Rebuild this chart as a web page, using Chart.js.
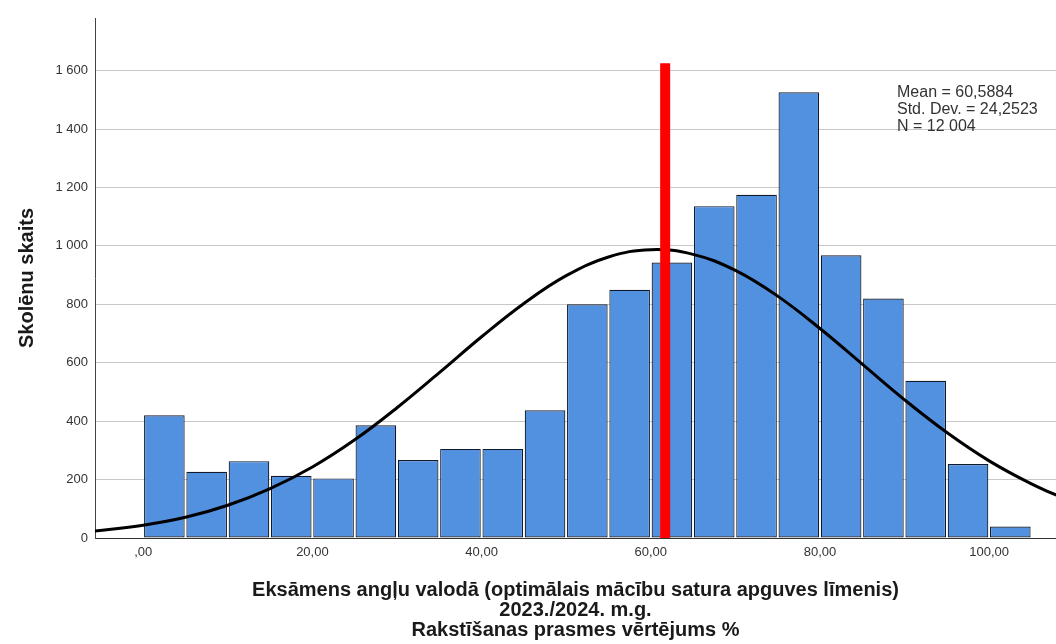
<!DOCTYPE html>
<html>
<head>
<meta charset="utf-8">
<script src="https://cdn.jsdelivr.net/npm/chart.js@4/dist/chart.umd.min.js"></script>
<style>
html,body{margin:0;padding:0;background:#fff;}
#wrap{width:1056px;height:644px;position:relative;}
</style>
</head>
<body>
<div id="wrap"><canvas id="c" width="1056" height="644"></canvas></div>
<script>
// ---- data ----
const binCenters = [2.5, 7.5, 12.5, 17.5, 22.5, 27.5, 32.5, 37.5, 42.5, 47.5, 52.5, 57.5, 62.5, 67.5, 72.5, 77.5, 82.5, 87.5, 92.5, 97.5, 102.5];
const binCounts  = [420, 227, 263, 213, 204, 386, 267, 305, 305, 437, 800, 850, 943, 1136, 1175, 1526, 968, 820, 538, 253, 39];

const curveX = [-6, 0, 5, 10, 15, 20, 25, 30, 35, 40, 45, 50, 55, 60, 65, 70, 75, 80, 85, 90, 95, 100, 105, 108];
const curveY = [23, 44, 71, 112, 169, 243, 336, 446, 566, 689, 803, 898, 962, 987, 971, 916, 828, 717, 595, 473, 361, 264, 185, 146];

const markerX = [61.7, 61.7];
const markerY = [0, 1625];

const yTickValues = [0, 200, 400, 600, 800, 1000, 1200, 1400, 1600];
const yTickLabels = ['0', '200', '400', '600', '800', '1 000', '1 200', '1 400', '1 600'];
const xTickValues = [0, 20, 40, 60, 80, 100];
const xTickLabels = [',00', '20,00', '40,00', '60,00', '80,00', '100,00'];

const statsLines = ['Mean = 60,5884', 'Std. Dev. = 24,2523', 'N = 12 004'];
const yTitle = 'Skolēnu skaits';
const xTitle = ['Eksāmens angļu valodā (optimālais mācību satura apguves līmenis)', '2023./2024. m.g.', 'Rakstīšanas prasmes vērtējums %'];

// ---- chart ----
const FONT = '"Liberation Sans", Arial, sans-serif';

const statsPlugin = {
  id: 'stats',
  afterDatasetsDraw(chart) {
    const ctx = chart.ctx;
    ctx.save();
    ctx.font = '16px ' + FONT;
    ctx.fillStyle = '#333';
    ctx.textAlign = 'left';
    ctx.textBaseline = 'alphabetic';
    statsLines.forEach((t, i) => ctx.fillText(t, 897, 97 + i * 17));
    ctx.restore();
  }
};

new Chart(document.getElementById('c'), {
  type: 'bar',
  data: {
    datasets: [
      {
        type: 'line',
        order: 0,
        data: markerX.map((x, i) => ({x: x, y: markerY[i]})),
        borderColor: '#ff0000',
        borderWidth: 10,
        borderCapStyle: 'butt',
        pointRadius: 0,
        tension: 0
      },
      {
        type: 'line',
        order: 1,
        data: curveX.map((x, i) => ({x: x, y: curveY[i]})),
        borderColor: '#000',
        borderWidth: 3,
        pointRadius: 0,
        tension: 0.4,
        fill: false
      },
      {
        type: 'bar',
        order: 2,
        data: binCenters.map((x, i) => ({x: x, y: binCounts[i]})),
        backgroundColor: '#5290e0',
        borderColor: '#111a2a',
        borderWidth: 1.2,
        borderSkipped: false,
        barPercentage: 0.96,
        categoryPercentage: 1
      }
    ]
  },
  options: {
    responsive: false,
    animation: false,
    devicePixelRatio: 1,
    layout: {padding: {top: 18, right: 0, left: 0, bottom: 0}},
    plugins: {legend: {display: false}, tooltip: {enabled: false}},
    scales: {
      x: {
        type: 'linear',
        min: -5.7,
        max: 107.9,
        offset: false,
        afterBuildTicks: s => { s.ticks = xTickValues.map(v => ({value: v})); },
        afterFit: s => { s.height = 106; },
        ticks: {
          callback: v => xTickLabels[xTickValues.indexOf(v)],
          font: {family: FONT, size: 13},
          color: '#333',
          padding: 7,
          maxRotation: 0,
          autoSkip: false
        },
        grid: {display: false, drawTicks: false, offset: false},
        border: {display: true, color: '#333', width: 1},
        title: {
          display: true,
          text: xTitle,
          font: {family: FONT, size: 20, weight: 'bold', lineHeight: 1},
          color: '#1a1a1a',
          padding: {top: 0, bottom: 4}
        }
      },
      y: {
        type: 'linear',
        min: 0,
        max: 1780,
        afterBuildTicks: s => { s.ticks = yTickValues.map(v => ({value: v})); },
        afterFit: s => { s.width = 95; },
        ticks: {
          callback: v => yTickLabels[yTickValues.indexOf(v)],
          font: {family: FONT, size: 13},
          color: '#333',
          padding: 7
        },
        grid: {color: '#c8c8c8', lineWidth: 1, drawTicks: false},
        border: {display: true, color: '#444', width: 1},
        title: {
          display: true,
          text: yTitle,
          font: {family: FONT, size: 20, weight: 'bold'},
          color: '#1a1a1a',
          padding: {top: 15, bottom: 0}
        }
      }
    }
  },
  plugins: [statsPlugin]
});
</script>
</body>
</html>
